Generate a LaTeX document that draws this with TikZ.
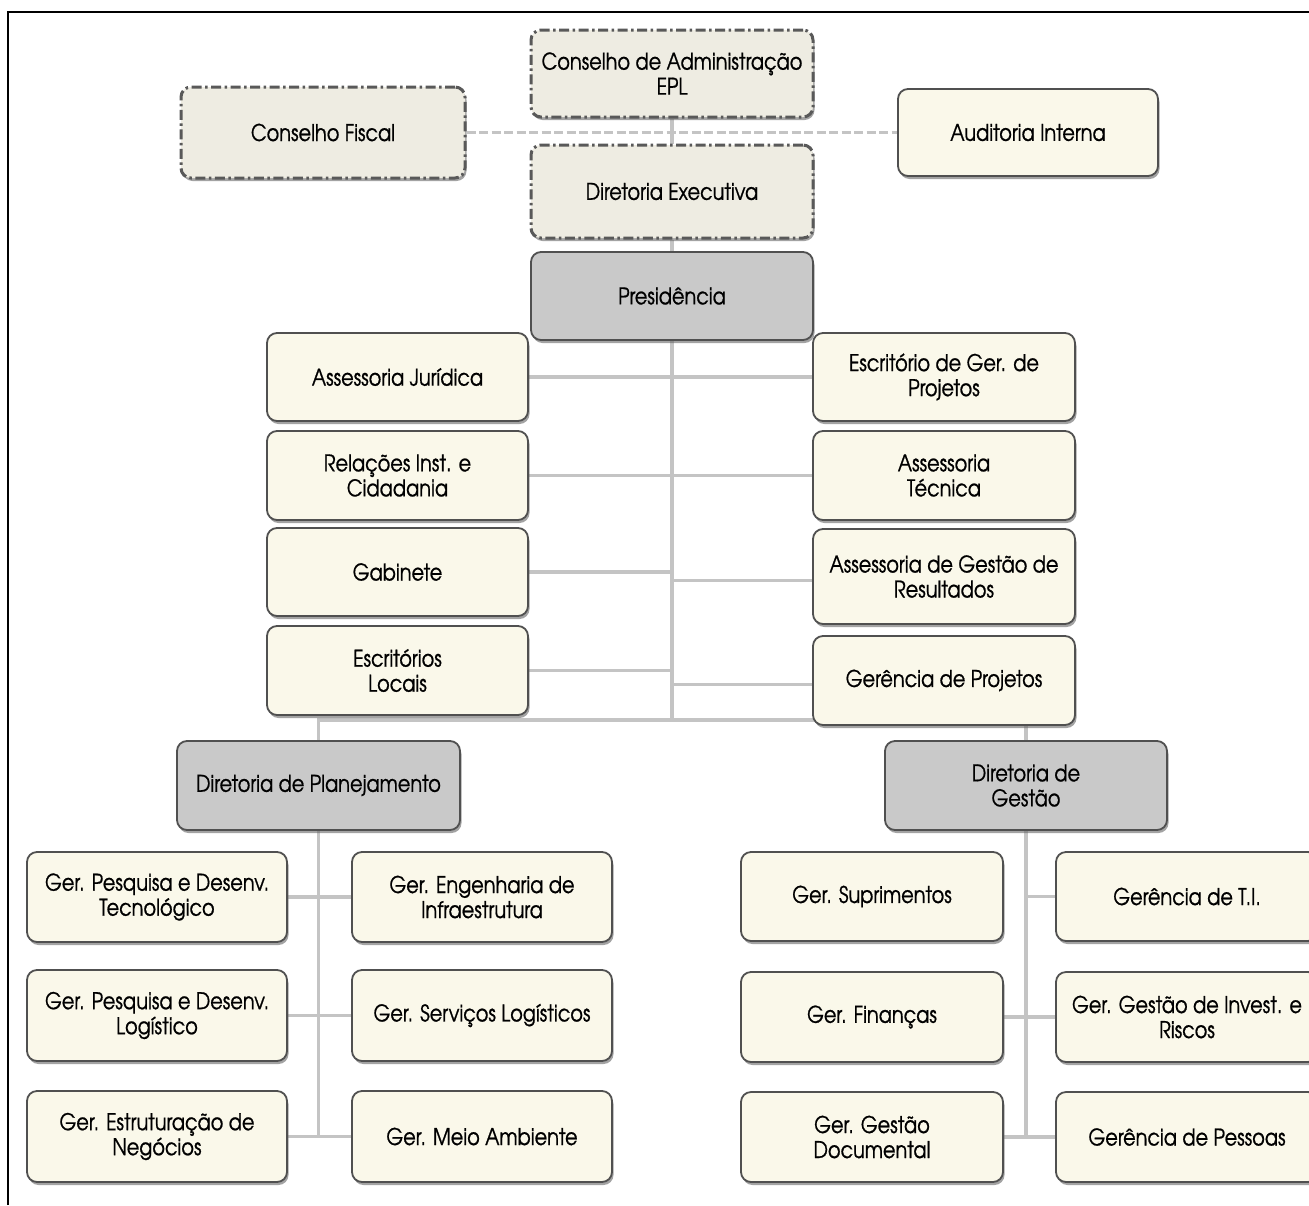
\documentclass[tikz,border=0pt]{standalone}
\usepackage{fontspec}
\setmainfont{texgyreadventor-regular.otf}[FakeStretch=0.84,FakeBold=0.8]
\usetikzlibrary{shadows,backgrounds}
\definecolor{cream}{RGB}{250,248,234}
\definecolor{dashfill}{RGB}{238,236,226}
\definecolor{boxgray}{RGB}{201,201,201}
\definecolor{edge}{RGB}{80,80,80}
\definecolor{conn}{RGB}{196,196,196}
\pgfdeclareverticalshading{creamsh}{100bp}{color(0bp)=(cream!45!black); color(5bp)=(cream!70!black); color(14bp)=(cream); color(84bp)=(cream); color(100bp)=(cream!30!white)}
\pgfdeclareverticalshading{graysh}{100bp}{color(0bp)=(boxgray!50!black); color(5bp)=(boxgray!75!black); color(14bp)=(boxgray); color(84bp)=(boxgray); color(100bp)=(boxgray!45!white)}
\pgfdeclareverticalshading{dashsh}{100bp}{color(0bp)=(dashfill!65!black); color(8bp)=(dashfill); color(100bp)=(dashfill)}
\tikzset{
  base/.style={rounded corners=10pt, draw=edge, line width=1.8pt, align=center, inner sep=2pt,
    text=black, font=\fontsize{23}{25}\selectfont,
    drop shadow={shadow xshift=1.5pt, shadow yshift=-3pt, fill=black!60, opacity=.6}},
  sz/.style 2 args={minimum width=#1pt, minimum height=#2pt},
  unitbox/.style={base, shading=creamsh},
  headbox/.style={base, shading=graysh},
  boardbox/.style={base, shading=dashsh, draw=black!65, line width=3pt,
    dash pattern=on 10pt off 3.5pt on 2.5pt off 3.5pt},
  link/.style={draw=conn, line width=3.2pt},
  dlink/.style={draw=conn, line width=3.2pt, dash pattern=on 9pt off 3.5pt},
}
\begin{document}
\begin{tikzpicture}[x=1pt, y=-1pt]
\useasboundingbox (0,0) rectangle (1309,1205);
\begin{scope}
\clip (0,0) rectangle (1309,1205);
% top boards
\node[boardbox, sz={282}{87}] (cadm) at (672,73.5) {Conselho de Administração\\EPL};
\node[boardbox, sz={284}{91}] (cfis) at (323,132.5) {Conselho Fiscal};
\node[boardbox, sz={282}{93}] (dexe) at (672,191.5) {Diretoria Executiva};
\node[unitbox, sz={260}{87}] (aud) at (1028,132.5) {Auditoria Interna};
\node[headbox, sz={282}{88}] (pres) at (672,296) {Presidência};
% presidency units
\node[unitbox, sz={261}{88}] (ajur) at (397.5,377) {Assessoria Jurídica};
\node[unitbox, sz={261}{89}] (rel) at (397.5,475.5) {Relações Inst. e\\Cidadania};
\node[unitbox, sz={261}{88}] (gab) at (397.5,572) {Gabinete};
\node[unitbox, sz={261}{89}] (esc) at (397.5,670.5) {Escritórios\\Locais};
\node[unitbox, sz={262}{88}] (egp) at (944,377) {Escritório de Ger. de\\Projetos};
\node[unitbox, sz={262}{89}] (atec) at (944,475.5) {Assessoria\\Técnica};
\node[unitbox, sz={262}{95}] (agr) at (944,576.5) {Assessoria de Gestão de\\Resultados};
\node[unitbox, sz={262}{89}] (gproj) at (944,680.5) {Gerência de Projetos};
% directorates
\node[headbox, sz={283}{89}] (dplan) at (318.5,785.5) {Diretoria de Planejamento};
\node[headbox, sz={282}{89}] (dges) at (1026,785.5) {Diretoria de\\Gestão};
% planning units
\node[unitbox, sz={260}{90}] (pdt) at (157,897) {Ger. Pesquisa e Desenv.\\Tecnológico};
\node[unitbox, sz={260}{91}] (pdl) at (157,1015.5) {Ger. Pesquisa e Desenv.\\Logístico};
\node[unitbox, sz={260}{91}] (est) at (157,1136.5) {Ger. Estruturação de\\Negócios};
\node[unitbox, sz={260}{90}] (eng) at (482,897) {Ger. Engenharia de\\Infraestrutura};
\node[unitbox, sz={260}{91}] (slog) at (482,1015.5) {Ger. Serviços Logísticos};
\node[unitbox, sz={260}{91}] (mamb) at (482,1136.5) {Ger. Meio Ambiente};
% management units
\node[unitbox, sz={262}{89}] (sup) at (872,896.5) {Ger. Suprimentos};
\node[unitbox, sz={262}{90}] (fin) at (872,1017) {Ger. Finanças};
\node[unitbox, sz={262}{90}] (doc) at (872,1137) {Ger. Gestão\\Documental};
\node[unitbox, sz={262}{89}] (ti) at (1187,896.5) {Gerência de T.I.};
\node[unitbox, sz={262}{90}] (inv) at (1187,1017) {Ger. Gestão de Invest. e\\Riscos};
\node[unitbox, sz={262}{90}] (pes) at (1187,1137) {Gerência de Pessoas};
\coordinate (jT) at (672,720);
\begin{scope}[on background layer]
\fill[white] (0,0) rectangle (1309,1205);
\draw[dlink] (cfis.east) -- (aud.west);
\draw[link] (cadm.south) -- (dexe.north);
\draw[link] (dexe.south) -- (pres.north);
\draw[link] (pres.south) -- (jT);
\draw[link] (ajur.east) -- (egp.west);
\draw[link] (rel.east) -- (atec.west);
\draw[link] (gab.east) -- (gab.east -| jT);
\draw[link] ([yshift=-4pt]agr.west) -- ([yshift=-4pt]agr.west -| jT);
\draw[link] (esc.east) -- (esc.east -| jT);
\draw[link] ([yshift=-4pt]gproj.west) -- ([yshift=-4pt]gproj.west -| jT);
\draw[link] (dplan.north) -- (dplan.north |- jT) -- (dges.north |- jT) -- (dges.north);
\draw[link] (dplan.south) -- (dplan.south |- est.east);
\draw[link] (pdt.east) -- (eng.west);
\draw[link] (pdl.east) -- (slog.west);
\draw[link] (est.east) -- (mamb.west);
\draw[link] (dges.south) -- (dges.south |- doc.east);
\draw[link] (dges.south |- ti.west) -- (ti.west);
\draw[link] (fin.east) -- (inv.west);
\draw[link] (doc.east) -- (pes.west);
\end{scope}
\draw[line width=2.6pt, black] (8,1205) -- (8,12) -- (1309,12);
\end{scope}
\end{tikzpicture}
\end{document}
